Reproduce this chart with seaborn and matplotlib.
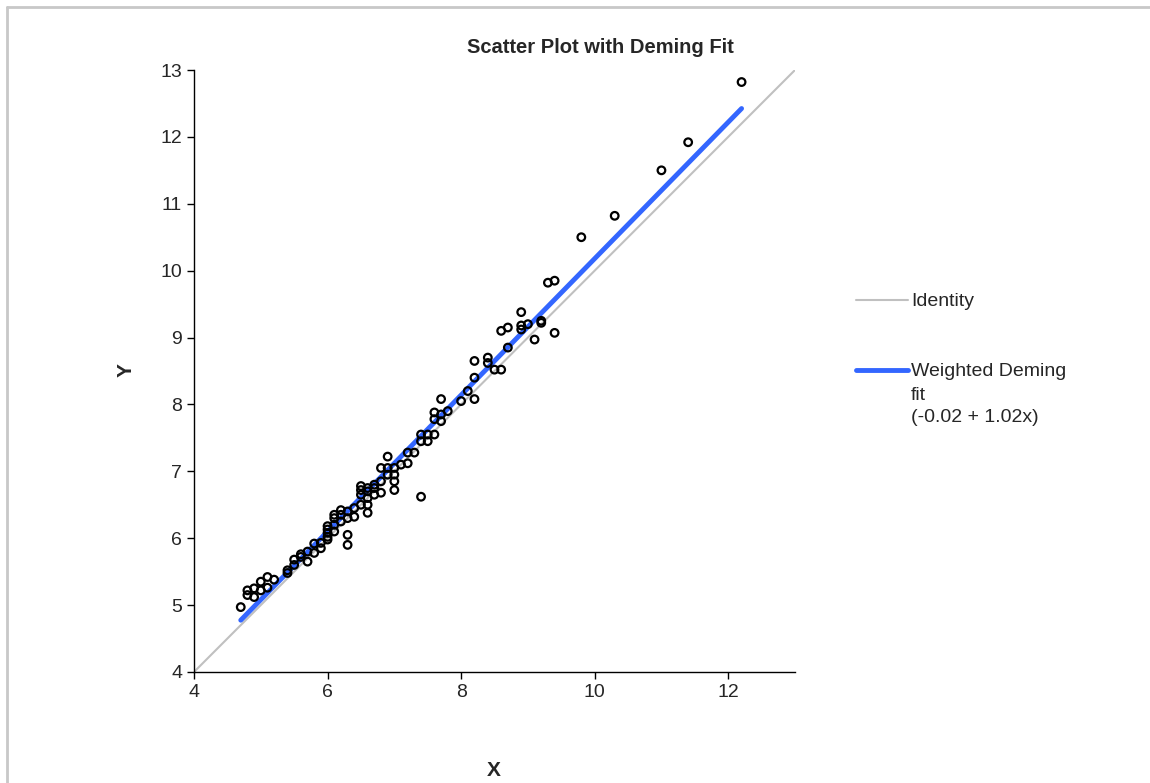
import numpy as np
import matplotlib
matplotlib.use('Agg')
import matplotlib.pyplot as plt
import seaborn as sns
from matplotlib.lines import Line2D

x_vals = [4.7, 4.8, 4.8, 4.9, 4.9, 5.0, 5.0, 5.1, 5.1, 5.2,
          5.4, 5.4, 5.5, 5.5, 5.6, 5.6, 5.7, 5.7, 5.8, 5.8,
          5.9, 5.9, 6.0, 6.0, 6.0, 6.0, 6.0, 6.1, 6.1, 6.1,
          6.1, 6.2, 6.2, 6.2, 6.3, 6.3, 6.3, 6.3, 6.4, 6.4,
          6.5, 6.5, 6.5, 6.5, 6.6, 6.6, 6.6, 6.6, 6.6, 6.7,
          6.7, 6.7, 6.8, 6.8, 6.8, 6.9, 6.9, 6.9, 7.0, 7.0,
          7.0, 7.0, 7.1, 7.2, 7.2, 7.3, 7.4, 7.4, 7.4, 7.5,
          7.5, 7.6, 7.6, 7.6, 7.7, 7.7, 7.7, 7.8, 8.0, 8.1,
          8.2, 8.2, 8.2, 8.4, 8.4, 8.5, 8.6, 8.6, 8.7, 8.7,
          8.9, 8.9, 8.9, 9.0, 9.1, 9.2, 9.2, 9.3, 9.4, 9.4,
          9.8, 10.3, 11.0, 11.4, 12.2]
y_vals = [4.97, 5.15, 5.22, 5.12, 5.25, 5.22, 5.35, 5.26, 5.42, 5.38,
          5.48, 5.52, 5.60, 5.68, 5.72, 5.76, 5.65, 5.80, 5.78, 5.92,
          5.85, 5.93, 5.98, 6.02, 6.08, 6.13, 6.18, 6.10, 6.20, 6.30,
          6.35, 6.25, 6.35, 6.42, 6.30, 6.40, 6.05, 5.90, 6.32, 6.45,
          6.50, 6.65, 6.72, 6.78, 6.38, 6.50, 6.60, 6.70, 6.75, 6.65,
          6.75, 6.80, 6.68, 6.85, 7.05, 6.95, 7.05, 7.22, 6.72, 6.85,
          6.95, 7.05, 7.10, 7.12, 7.28, 7.28, 7.45, 7.55, 6.62, 7.45,
          7.55, 7.55, 7.78, 7.88, 7.75, 7.85, 8.08, 7.90, 8.05, 8.20,
          8.08, 8.40, 8.65, 8.62, 8.70, 8.52, 8.52, 9.10, 8.85, 9.15,
          9.12, 9.18, 9.38, 9.20, 8.97, 9.22, 9.25, 9.82, 9.85, 9.07,
          10.50, 10.82, 11.50, 11.92, 12.82]

# Identity line and weighted Deming fit
identity_x = [4, 13]
identity_y = [4, 13]
intercept = -0.02
slope = 1.02
fit_x = np.array([4.7, 12.2])
fit_y = intercept + slope * fit_x

x_ticks = [4, 6, 8, 10, 12]
y_ticks = [4, 5, 6, 7, 8, 9, 10, 11, 12, 13]

sns.set_style('white')
plt.rcParams['font.family'] = ['Liberation Sans', 'DejaVu Sans']

fig = plt.figure(figsize=(11.5, 7.83), dpi=100)
ax = fig.add_axes([0.1687, 0.1418, 0.5226, 0.7688])

sns.lineplot(x=identity_x, y=identity_y, ax=ax, color='#c0c0c0', linewidth=1.5, label='Identity')
sns.lineplot(x=fit_x, y=fit_y, ax=ax, color='#3366ff', linewidth=3.5, label='Weighted Deming', solid_capstyle='round')
sns.scatterplot(x=x_vals, y=y_vals, ax=ax, marker='o', s=30, facecolor='none',
                edgecolor='black', linewidth=1.6, legend=False, zorder=3)

ax.set_xlim(4, 13)
ax.set_ylim(4, 13)
ax.set_xticks(x_ticks)
ax.set_yticks(y_ticks)
ax.tick_params(axis='both', labelsize=14, length=5, width=1, direction='out', color='black',
               bottom=True, left=True)
sns.despine(ax=ax)
for s in ['left', 'bottom']:
    ax.spines[s].set_color('black')
    ax.spines[s].set_linewidth(1)
ax.set_xlabel('')
ax.set_ylabel('')

fig.text(0.429, 0.016, 'X', fontsize=15, fontweight='bold', ha='center', va='center')
fig.text(0.110, 0.527, 'Y', fontsize=15, fontweight='bold', ha='center', va='center', rotation=90)
fig.text(0.522, 0.939, 'Scatter Plot with Deming Fit', fontsize=14.5, fontweight='bold',
         ha='center', va='center')

leg = ax.legend(loc='upper left', bbox_to_anchor=(1.072, 0.659), frameon=False, fontsize=14,
                labelspacing=2.7, handlelength=2.7, handletextpad=0.15)

# continuation lines of the fit label below its first line
fig.canvas.draw()
bb = leg.get_texts()[1].get_window_extent()
W, H = fig.get_size_inches() * fig.dpi
fig.text(bb.x0 / W, (bb.y0 - 7) / H, 'fit\n(-0.02 + 1.02x)', fontsize=14, ha='left', va='top',
         linespacing=1.38)

# outer frame like the original export
fig.add_artist(Line2D([0.006, 0.006], [0, 0.991], transform=fig.transFigure, color='#c8c8c8', linewidth=2))
fig.add_artist(Line2D([0.006, 1.0], [0.991, 0.991], transform=fig.transFigure, color='#c8c8c8', linewidth=2))

fig.savefig('out.png', dpi=100)
